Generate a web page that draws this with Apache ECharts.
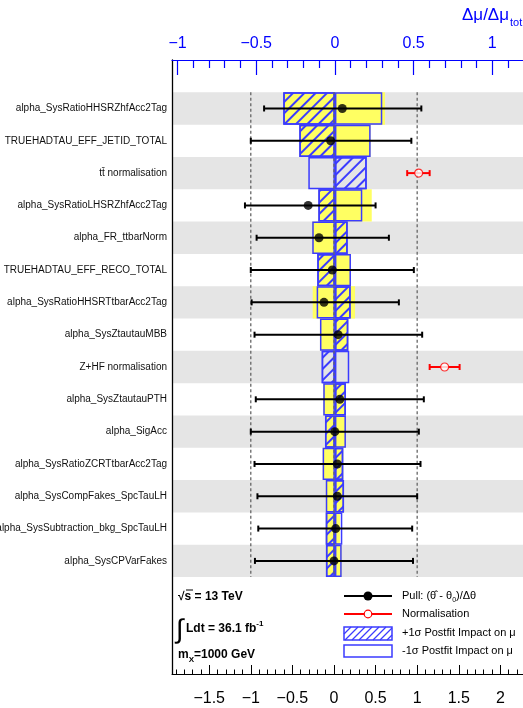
<!DOCTYPE html>
<html><head><meta charset="utf-8">
<script src="https://cdn.jsdelivr.net/npm/echarts@6/dist/echarts.min.js"></script>
<style>html,body{margin:0;padding:0;background:#fff}#c{width:523px;height:708px}</style>
</head><body><div id="c"></div>
<script>
// ---------------- data ----------------
const rowLabels = [
  'alpha_SysRatioHHSRZhfAcc2Tag',
  'TRUEHADTAU_EFF_JETID_TOTAL',
  'tt\u0304 normalisation',
  'alpha_SysRatioLHSRZhfAcc2Tag',
  'alpha_FR_ttbarNorm',
  'TRUEHADTAU_EFF_RECO_TOTAL',
  'alpha_SysRatioHHSRTtbarAcc2Tag',
  'alpha_SysZtautauMBB',
  'Z+HF normalisation',
  'alpha_SysZtautauPTH',
  'alpha_SigAcc',
  'alpha_SysRatioZCRTtbarAcc2Tag',
  'alpha_SysCompFakes_SpcTauLH',
  'alpha_SysSubtraction_bkg_SpcTauLH',
  'alpha_SysCPVarFakes'
];
// pulls (bottom axis)
const pullCentral = [0.10, -0.04, null, -0.31, -0.18, -0.02, -0.12, 0.05, null, 0.07, 0.01, 0.04, 0.04, 0.02, 0.00];
const pullLow     = [-0.84, -1.00, null, -1.07, -0.93, -1.00, -0.99, -0.955, null, -0.94, -1.00, -0.955, -0.92, -0.91, -0.95];
const pullHigh    = [1.05, 0.93, null, 0.50, 0.66, 0.96, 0.78, 1.06, null, 1.08, 1.02, 1.04, 1.00, 0.94, 0.95];
// normalisation factors (bottom axis)
const normRows    = [2, 8];
const normCentral = [1.018, 1.33];
const normLow     = [0.88, 1.15];
const normHigh    = [1.15, 1.51];
// impacts on mu (top axis)
const postImpactPlus  = [-0.328, -0.226, 0.202, -0.105, 0.081, -0.112, 0.100, 0.085, -0.084, 0.070, -0.063, 0.053, 0.058, -0.058, -0.057];
const postImpactMinus = [0.301, 0.227, -0.169, 0.174, -0.144, 0.102, -0.116, -0.095, 0.091, -0.074, 0.070, -0.078, -0.058, 0.047, 0.043];
const preImpactPlus   = [-0.328, -0.226, null, -0.105, 0.081, -0.112, 0.128, 0.085, null, 0.070, -0.063, 0.053, 0.058, -0.058, -0.057];
const preImpactMinus  = [0.318, 0.227, null, 0.234, -0.144, 0.102, -0.141, -0.095, null, -0.074, 0.070, -0.078, -0.058, 0.032, 0.043];
// tick labels
const pullTicks = [-1.5, -1, -0.5, 0, 0.5, 1, 1.5, 2];
const impactTicks = [-1, -0.5, 0, 0.5, 1];
const refLines = [-1, 0, 1];

// ---------------- build ----------------
const PULL_MIN = -1.947, PULL_MAX = 2.272;
const IMP_MIN = -1.035, IMP_MAX = 1.195;
const BLUE = '#0000ff', BOX = '#3b3bff', YEL = '#ffff62';
const FONT = '"Liberation Sans", Arial, Helvetica, sans-serif';
const NTOP = 1;
const cats = [''].concat(rowLabels, ['', '', '']);
const pad = a => [null].concat(a, [null, null, null]);
const rowIdx = i => i + NTOP;

function steps(a, b, s) { const r = []; for (let k = Math.round(a / s); k * s <= b + 1e-9; k++) r.push(+(k * s).toFixed(2)); return r; }
const pullMinor = steps(-1.9, 2.2, 0.1).filter(v => !pullTicks.includes(v));
const impMinor = steps(-1.0, 1.1, 0.1).filter(v => !impactTicks.includes(v));
const fmt = v => String(+v.toFixed(2)).replace('-', '\u2212');

const grid = { left: 172, right: 0, top: 60, bottom: 34, containLabel: false, outerBoundsMode: 'none' };

const hatch = { symbol: 'rect', symbolSize: 1, color: BOX, dashArrayX: [1, 0], dashArrayY: [1.3, 5.6], rotation: -Math.PI / 4 };

const pullData = [], errData = [];
pullCentral.forEach((v, i) => { if (v !== null) { pullData.push([v, rowIdx(i)]); errData.push([pullLow[i], pullHigh[i], rowIdx(i)]); } });
const normData = normRows.map((r, k) => [normCentral[k], rowIdx(r)]);
const normErr = normRows.map((r, k) => [normLow[k], normHigh[k], rowIdx(r)]);
const bandData = [];
for (let i = 0; i < rowLabels.length; i += 2) bandData.push([0, rowIdx(i)]);

function errRender(color) {
  return function (params, api) {
    const a = api.coord([api.value(0), api.value(2)]);
    const b = api.coord([api.value(1), api.value(2)]);
    const c = 3, st = { stroke: color, lineWidth: 2 };
    return { type: 'group', children: [
      { type: 'line', shape: { x1: a[0], y1: a[1], x2: b[0], y2: b[1] }, style: st },
      { type: 'line', shape: { x1: a[0], y1: a[1] - c, x2: a[0], y2: a[1] + c }, style: st },
      { type: 'line', shape: { x1: b[0], y1: b[1] - c, x2: b[0], y2: b[1] + c }, style: st }
    ]};
  };
}

function hatchLines(x0, y0, w, h, step, color) {
  const out = [];
  for (let s = -h; s < w; s += step) {
    const t1 = Math.max(s, 0), t2 = Math.min(s + h, w);
    if (t2 <= t1) continue;
    out.push({ type: 'line', shape: { x1: x0 + t1, y1: y0 + h - (t1 - s), x2: x0 + t2, y2: y0 + h - (t2 - s) }, style: { stroke: color, lineWidth: 1.2 } });
  }
  return out;
}

function rt(x, y, text, rich) {
  return { type: 'text', x: x, y: y, style: { text: text, rich: rich, fontFamily: FONT, verticalAlign: 'middle' } };
}
const legRich = {
  a: { fontSize: 11, lineHeight: 16, fontFamily: FONT, color: '#000', verticalAlign: 'middle' },
  s: { fontSize: 7, lineHeight: 16, fontFamily: FONT, color: '#000', verticalAlign: 'bottom' }
};
const infoRich = {
  b: { fontSize: 12, fontWeight: 'bold', lineHeight: 18, fontFamily: FONT, color: '#000', verticalAlign: 'middle' },
  sub: { fontSize: 8, fontWeight: 'bold', lineHeight: 18, fontFamily: FONT, color: '#000', verticalAlign: 'bottom' },
  sup: { fontSize: 8, fontWeight: 'bold', lineHeight: 18, fontFamily: FONT, color: '#000', verticalAlign: 'top' }
};

const graphics = [
  // axis title
  { type: 'text', x: 462, y: 15, style: { text: '\u0394\u03bc/\u0394\u03bc', fontSize: 17, fontFamily: FONT, fill: BLUE, verticalAlign: 'middle' } },
  { type: 'text', x: 510, y: 23, style: { text: 'tot', fontSize: 11, fontFamily: FONT, fill: BLUE, verticalAlign: 'middle' } },
  // info text
  rt(178, 597, '{b|\u221as = 13 TeV}', infoRich),
  { type: 'line', shape: { x1: 186, y1: 590, x2: 193, y2: 590 }, style: { stroke: '#000', lineWidth: 1 } },
  { type: 'text', x: 176, y: 631, style: { text: '\u222b', fontSize: 27, fontFamily: FONT, fill: '#000', verticalAlign: 'middle' } },
  rt(186, 629, '{b|Ldt = 36.1 fb}{sup|-1}', infoRich),
  rt(178, 655, '{b|m}{sub|X}{b|=1000 GeV}', infoRich),
  // legend
  { type: 'line', shape: { x1: 344, y1: 596, x2: 392, y2: 596 }, style: { stroke: '#000', lineWidth: 2 } },
  { type: 'circle', shape: { cx: 368, cy: 596, r: 4.5 }, style: { fill: '#000' } },
  rt(402, 596, '{a|Pull: (\u03b8\u0302 - \u03b8}{s|0}{a|)/\u0394\u03b8}', legRich),
  { type: 'line', shape: { x1: 344, y1: 614, x2: 392, y2: 614 }, style: { stroke: '#ff0000', lineWidth: 2 } },
  { type: 'circle', shape: { cx: 368, cy: 614, r: 3.8 }, style: { fill: '#fff', stroke: '#ff0000', lineWidth: 1.2 } },
  rt(402, 614, '{a|Normalisation}', legRich),
  { type: 'group', children: hatchLines(344, 627, 48, 13, 7, BOX) },
  { type: 'rect', shape: { x: 344, y: 627, width: 48, height: 13 }, style: { fill: 'none', stroke: BOX, lineWidth: 1.5 } },
  rt(402, 633, '{a|+1\u03c3 Postfit Impact on \u03bc}', legRich),
  { type: 'rect', shape: { x: 344, y: 645, width: 48, height: 12 }, style: { fill: 'none', stroke: BOX, lineWidth: 1.5 } },
  rt(402, 651, '{a|-1\u03c3 Postfit Impact on \u03bc}', legRich)
];

const option = {
  animation: false,
  backgroundColor: '#fff',
  textStyle: { fontFamily: FONT },
  grid: [Object.assign({}, grid), Object.assign({}, grid)],
  xAxis: [
    { gridIndex: 0, type: 'value', position: 'bottom', min: PULL_MIN, max: PULL_MAX,
      axisLine: { show: true, onZero: false, lineStyle: { color: '#000', width: 1 } },
      axisTick: { show: true, inside: true, length: 9, customValues: pullTicks, lineStyle: { color: '#000', width: 1 } },
      axisLabel: { show: true, customValues: pullTicks, formatter: fmt, fontSize: 16, color: '#000', margin: 17, fontFamily: FONT },
      splitLine: { show: false } },
    { gridIndex: 0, type: 'value', position: 'top', min: IMP_MIN, max: IMP_MAX,
      axisLine: { show: true, onZero: false, lineStyle: { color: BLUE, width: 1.2 } },
      axisTick: { show: true, inside: true, length: 15, customValues: impactTicks, lineStyle: { color: BLUE, width: 1.2 } },
      axisLabel: { show: true, customValues: impactTicks, formatter: fmt, fontSize: 16, color: BLUE, margin: 8, fontFamily: FONT },
      splitLine: { show: false } },
    { gridIndex: 1, type: 'value', position: 'bottom', min: PULL_MIN, max: PULL_MAX,
      axisLine: { show: false }, axisLabel: { show: false }, splitLine: { show: false },
      axisTick: { show: true, inside: true, length: 4.5, customValues: pullMinor, lineStyle: { color: '#000', width: 1 } } },
    { gridIndex: 1, type: 'value', position: 'top', min: IMP_MIN, max: IMP_MAX,
      axisLine: { show: false }, axisLabel: { show: false }, splitLine: { show: false },
      axisTick: { show: true, inside: true, length: 8, customValues: impMinor, lineStyle: { color: BLUE, width: 1.2 } } }
  ],
  yAxis: [
    { gridIndex: 0, type: 'category', data: cats, inverse: true,
      axisLine: { show: true, onZero: false, lineStyle: { color: '#000', width: 1.3 } },
      axisTick: { show: false },
      axisLabel: { show: true, interval: 0, fontSize: 10, color: '#111', margin: 5, fontFamily: FONT },
      splitLine: { show: false } },
    { gridIndex: 1, type: 'category', data: cats, inverse: true, show: false }
  ],
  series: [
    { type: 'custom', name: 'bands', xAxisIndex: 0, yAxisIndex: 0, z: 0, silent: true,
      encode: { x: 0, y: 1 }, data: bandData,
      renderItem: function (params, api) {
        const p = api.coord([0, api.value(1)]);
        const h = api.size([0, 1])[1];
        return { type: 'rect', shape: { x: params.coordSys.x, y: p[1] - h / 2, width: params.coordSys.width, height: h }, style: { fill: '#e5e5e5' } };
      } },
    { type: 'bar', name: 'prefit +1sigma', xAxisIndex: 1, yAxisIndex: 0, z: 2, barWidth: '100%', barGap: '-100%',
      data: pad(preImpactPlus), itemStyle: { color: YEL } },
    { type: 'bar', name: 'prefit -1sigma', xAxisIndex: 1, yAxisIndex: 0, z: 2, barWidth: '100%', barGap: '-100%',
      data: pad(preImpactMinus), itemStyle: { color: YEL } },
    { type: 'bar', name: '+1sigma Postfit Impact on mu', xAxisIndex: 1, yAxisIndex: 0, z: 3, barWidth: '100%', barGap: '-100%',
      data: pad(postImpactPlus), itemStyle: { color: 'rgba(0,0,0,0)', borderColor: BOX, borderWidth: 1.5, decal: hatch } },
    { type: 'bar', name: '-1sigma Postfit Impact on mu', xAxisIndex: 1, yAxisIndex: 0, z: 3, barWidth: '100%', barGap: '-100%',
      data: pad(postImpactMinus), itemStyle: { color: 'rgba(0,0,0,0)', borderColor: BOX, borderWidth: 1.5 } },
    { type: 'custom', name: 'ref lines', xAxisIndex: 0, yAxisIndex: 0, z: 4, silent: true,
      encode: { x: 0, y: 1 }, data: refLines.map(v => [v, rowIdx(0)]),
      renderItem: function (params, api) {
        const x = api.coord([api.value(0), rowIdx(0)])[0];
        const h = api.size([0, 1])[1];
        const yA = api.coord([0, rowIdx(0)])[1] - h / 2;
        const yB = api.coord([0, rowIdx(rowLabels.length - 1)])[1] + h / 2;
        return { type: 'line', shape: { x1: x, y1: yA, x2: x, y2: yB }, style: { stroke: '#666', lineWidth: 1.3, lineDash: [3, 2.5] } };
      } },
    { type: 'custom', name: 'pull err', xAxisIndex: 0, yAxisIndex: 0, z: 5, encode: { x: [0, 1], y: 2 }, data: errData, renderItem: errRender('#000') },
    { type: 'scatter', name: 'Pull', xAxisIndex: 0, yAxisIndex: 0, z: 6, symbol: 'circle', symbolSize: 9, data: pullData, itemStyle: { color: '#000' } },
    { type: 'custom', name: 'norm err', xAxisIndex: 0, yAxisIndex: 0, z: 5, encode: { x: [0, 1], y: 2 }, data: normErr, renderItem: errRender('#ff0000') },
    { type: 'scatter', name: 'Normalisation', xAxisIndex: 0, yAxisIndex: 0, z: 6, symbol: 'circle', symbolSize: 8, data: normData,
      itemStyle: { color: '#fff', borderColor: '#ff0000', borderWidth: 1.2 } }
  ],
  graphic: graphics
};

const chart = echarts.init(document.getElementById('c'), null, { renderer: 'canvas', width: 523, height: 708 });
chart.setOption(option);
</script>
</body></html>
